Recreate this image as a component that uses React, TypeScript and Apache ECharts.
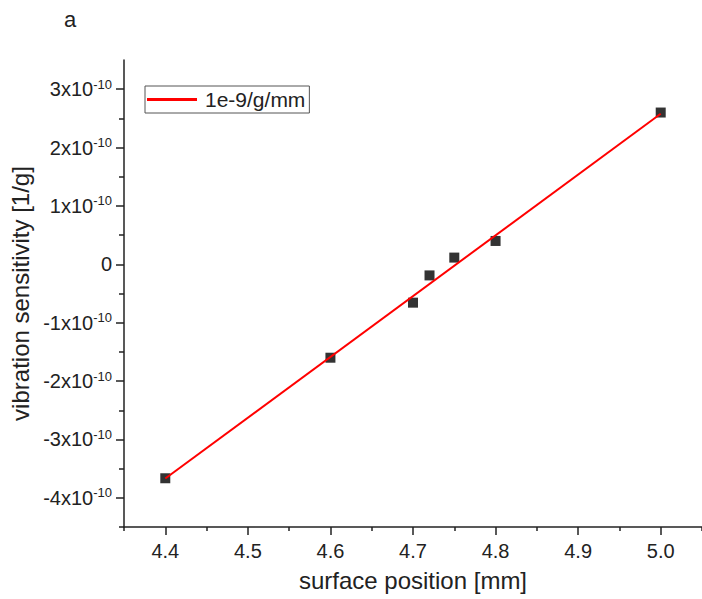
import React, { useEffect, useRef } from "react";
import * as echarts from "echarts";

const positions = [4.4, 4.6, 4.7, 4.72, 4.75, 4.8, 5.0];
const sensitivities = [-3.665e-10, -1.6e-10, -0.657e-10, -0.19e-10, 0.115e-10, 0.4e-10, 2.6e-10];
const fitPositions = [4.4, 5.0];
const fitValues = [-3.67e-10, 2.58e-10];
const fitName = "1e-9/g/mm";
const xMajor = [4.4, 4.5, 4.6, 4.7, 4.8, 4.9, 5.0];
const xMinor = [4.35, 4.45, 4.55, 4.65, 4.75, 4.85, 4.95, 5.05];
const yMajorUnits = [-4, -3, -2, -1, 0, 1, 2, 3];
const yMinorUnits = [-4.5, -3.5, -2.5, -1.5, -0.5, 0.5, 1.5, 2.5, 3.5];
const yUnit = 1e-10;

const FONT = "Liberation Sans, Arial, sans-serif";

export default function App() {
  const ref = useRef<HTMLDivElement>(null);
  useEffect(() => {
    if (!ref.current) return;
    const chart = echarts.init(ref.current, null, { renderer: "svg" });
    const yMajor = yMajorUnits.map((u) => u * yUnit);
    const yMinor = yMinorUnits.map((u) => u * yUnit);
    const axisLineStyle = { color: "#222", width: 1.5 };
    const yFmt = (v: number) => {
      const k = Math.round(v / yUnit);
      if (k === 0) return "{m|0}";
      return `{m|${k}x10}{s|-10}`;
    };
    chart.setOption({
      animation: false,
      backgroundColor: "#fff",
      textStyle: { fontFamily: FONT },
      graphic: [
        {
          type: "text",
          left: 64,
          top: 8,
          style: { text: "a", fontSize: 22, fontFamily: FONT, fill: "#222" },
        },
      ],
      legend: {
        left: 145,
        top: 86,
        data: [fitName],
        icon: "rect",
        borderColor: "#555",
        borderWidth: 1,
        padding: [3, 4, 3, 2],
        itemWidth: 50,
        itemHeight: 3,
        textStyle: { fontSize: 21, fontFamily: FONT, color: "#222", padding: [0, 0, 0, 3] },
      },
      grid: { left: 124, top: 60, right: -2, bottom: 72, containLabel: false },
      xAxis: [
        {
          type: "value",
          min: 4.35,
          max: 5.05,
          name: "surface position [mm]",
          nameLocation: "middle",
          nameGap: 41,
          nameTextStyle: { fontSize: 24, fontFamily: FONT, color: "#222" },
          axisLine: { show: true, onZero: false, lineStyle: axisLineStyle },
          axisTick: { show: true, length: 8, customValues: xMajor, lineStyle: axisLineStyle },
          axisLabel: {
            customValues: xMajor,
            fontSize: 20,
            fontFamily: FONT,
            color: "#222",
            margin: 14,
            formatter: (v: number) => v.toFixed(1),
          },
          splitLine: { show: false },
        },
        {
          type: "value",
          min: 4.35,
          max: 5.05,
          position: "bottom",
          axisLine: { show: false, onZero: false },
          axisTick: { show: true, length: 4, customValues: xMinor, lineStyle: axisLineStyle },
          axisLabel: { show: false },
          splitLine: { show: false },
        },
      ],
      yAxis: [
        {
          type: "value",
          min: -4.5e-10,
          max: 3.5e-10,
          name: "vibration sensitivity [1/g]",
          nameLocation: "middle",
          nameGap: 87,
          nameRotate: 90,
          nameTextStyle: { fontSize: 24, fontFamily: FONT, color: "#222" },
          axisLine: { show: true, onZero: false, lineStyle: axisLineStyle },
          axisTick: { show: true, length: 8, customValues: yMajor, lineStyle: axisLineStyle },
          axisLabel: {
            customValues: yMajor,
            margin: 12,
            formatter: yFmt,
            rich: {
              m: { fontSize: 20, fontFamily: FONT, color: "#222", lineHeight: 23 },
              s: { fontSize: 13, fontFamily: FONT, color: "#222", verticalAlign: "top", lineHeight: 23 },
            },
          },
          splitLine: { show: false },
        },
        {
          type: "value",
          min: -4.5e-10,
          max: 3.5e-10,
          position: "left",
          axisLine: { show: false, onZero: false },
          axisTick: { show: true, length: 5, customValues: yMinor, lineStyle: axisLineStyle },
          axisLabel: { show: false },
          splitLine: { show: false },
        },
      ],
      series: [
        {
          type: "scatter",
          name: "data",
          symbol: "rect",
          symbolSize: 10,
          itemStyle: { color: "#000" },
          data: positions.map((x, i) => [x, sensitivities[i]]),
          z: 2,
        },
        {
          type: "line",
          name: fitName,
          symbol: "none",
          lineStyle: { color: "#ff0000", width: 2 },
          itemStyle: { color: "#ff0000" },
          data: fitPositions.map((x, i) => [x, fitValues[i]]),
          z: 3,
        },
      ],
    });
    return () => chart.dispose();
  }, []);
  return (
    <div
      ref={ref}
      style={{ position: "fixed", left: 0, top: 0, width: 702, height: 599 }}
    />
  );
}
